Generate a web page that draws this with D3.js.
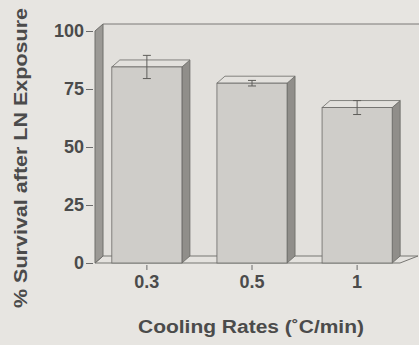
<!DOCTYPE html>
<html>
<head>
<meta charset="utf-8">
<script src="https://cdn.jsdelivr.net/npm/d3@7"></script>
<style>
  html, body { margin: 0; padding: 0; background: #e7e5e1; }
  svg { display: block; }
  .tick text { font-family: "Liberation Sans", Arial, sans-serif; font-weight: bold; fill: #4b4b4b; }
  .tick line { stroke: #6b6b6b; }
</style>
</head>
<body>
<div id="chart"></div>
<script>
// data
const categories = ['0.3', '0.5', '1'];
const survival = [84.5, 77.5, 67];
const errors = [5, 1.2, 3];
const yTicks = [0, 25, 50, 75, 100];

const width = 419;
const height = 345;
const depth = { dx: 8, dy: -7 };

const svg = d3.select('#chart').append('svg')
  .attr('width', width)
  .attr('height', height);

svg.append('rect').attr('width', width).attr('height', height).attr('fill', '#e7e5e1');

const x = d3.scaleBand().domain(categories).range([95, 409])
  .paddingInner(0.333).paddingOuter(0.16);
const y = d3.scaleLinear().domain([0, 100]).range([263, 31]);

const x0 = 95;
const floorRight = 400;
const y0 = y(0);
const yTop = y(100);

// back wall
svg.append('rect')
  .attr('x', x0 + depth.dx).attr('y', yTop + depth.dy)
  .attr('width', width - x0).attr('height', y0 - yTop)
  .attr('fill', '#e2e0dc');
svg.append('line')
  .attr('x1', x0 + depth.dx).attr('x2', width)
  .attr('y1', yTop + depth.dy).attr('y2', yTop + depth.dy)
  .attr('stroke', '#7a7976').attr('stroke-width', 1);

// floor
svg.append('path')
  .attr('d', `M${x0},${y0} L${floorRight},${y0} L${floorRight + depth.dx + 10},${y0 + depth.dy} L${x0 + depth.dx},${y0 + depth.dy} Z`)
  .attr('fill', '#e4e2de').attr('stroke', '#777673').attr('stroke-width', 1);

// left wall
svg.append('path')
  .attr('d', `M${x0},${yTop} L${x0 + depth.dx},${yTop + depth.dy} L${x0 + depth.dx},${y0 + depth.dy} L${x0},${y0} Z`)
  .attr('fill', '#9b9995').attr('stroke', '#6f6e6b').attr('stroke-width', 1);

// bars
const bars = svg.append('g').selectAll('g').data(categories).enter().append('g');
const bw = x.bandwidth();

bars.append('path') // side
  .attr('d', (d, i) => {
    const xr = x(d) + bw, yt = y(survival[i]);
    return `M${xr},${yt} L${xr + depth.dx},${yt + depth.dy} L${xr + depth.dx},${y0 + depth.dy} L${xr},${y0} Z`;
  })
  .attr('fill', '#908e8a').attr('stroke', '#6a6966').attr('stroke-width', 0.8);

bars.append('path') // top
  .attr('d', (d, i) => {
    const xl = x(d), yt = y(survival[i]);
    return `M${xl},${yt} L${xl + depth.dx},${yt + depth.dy} L${xl + bw + depth.dx},${yt + depth.dy} L${xl + bw},${yt} Z`;
  })
  .attr('fill', '#e3e1dd').attr('stroke', '#6a6966').attr('stroke-width', 0.8);

bars.append('rect') // front
  .attr('x', d => x(d))
  .attr('y', (d, i) => y(survival[i]))
  .attr('width', bw)
  .attr('height', (d, i) => y0 - y(survival[i]))
  .attr('fill', '#cfcdc9').attr('stroke', '#6a6966').attr('stroke-width', 0.8);

// error bars
const eb = bars.append('g').attr('stroke', '#5e5d5a').attr('stroke-width', 1);
eb.append('line')
  .attr('x1', d => x(d) + bw / 2).attr('x2', d => x(d) + bw / 2)
  .attr('y1', (d, i) => y(survival[i] + errors[i])).attr('y2', (d, i) => y(survival[i] - errors[i]));
eb.append('line')
  .attr('x1', d => x(d) + bw / 2 - 4).attr('x2', d => x(d) + bw / 2 + 4)
  .attr('y1', (d, i) => y(survival[i] + errors[i])).attr('y2', (d, i) => y(survival[i] + errors[i]));
eb.append('line')
  .attr('x1', d => x(d) + bw / 2 - 4).attr('x2', d => x(d) + bw / 2 + 4)
  .attr('y1', (d, i) => y(survival[i] - errors[i])).attr('y2', (d, i) => y(survival[i] - errors[i]));

// axes
const yAxis = svg.append('g')
  .attr('transform', `translate(${x0 - 2},0)`)
  .call(d3.axisLeft(y).tickValues(yTicks).tickSize(7).tickPadding(2).tickSizeOuter(0));
yAxis.select('.domain').remove();
yAxis.selectAll('text').attr('font-size', 18);

const xAxis = svg.append('g')
  .attr('transform', `translate(0,${y0 + 2})`)
  .call(d3.axisBottom(x).tickSize(5).tickPadding(5).tickSizeOuter(0));
xAxis.select('.domain').remove();
xAxis.selectAll('text').attr('font-size', 18);

// titles
svg.append('text')
  .attr('x', 251).attr('y', 333)
  .attr('text-anchor', 'middle')
  .attr('font-family', '"Liberation Sans", Arial, sans-serif')
  .attr('font-weight', 'bold').attr('font-size', 18).attr('fill', '#4b4b4b')
  .attr('textLength', 226).attr('lengthAdjust', 'spacingAndGlyphs')
  .text('Cooling Rates (˚C/min)');

svg.append('text')
  .attr('transform', 'translate(27,158) rotate(-90)')
  .attr('text-anchor', 'middle')
  .attr('font-family', '"Liberation Sans", Arial, sans-serif')
  .attr('font-weight', 'bold').attr('font-size', 18).attr('fill', '#4b4b4b')
  .attr('textLength', 300).attr('lengthAdjust', 'spacingAndGlyphs')
  .text('% Survival after LN Exposure');
</script>
</body>
</html>
